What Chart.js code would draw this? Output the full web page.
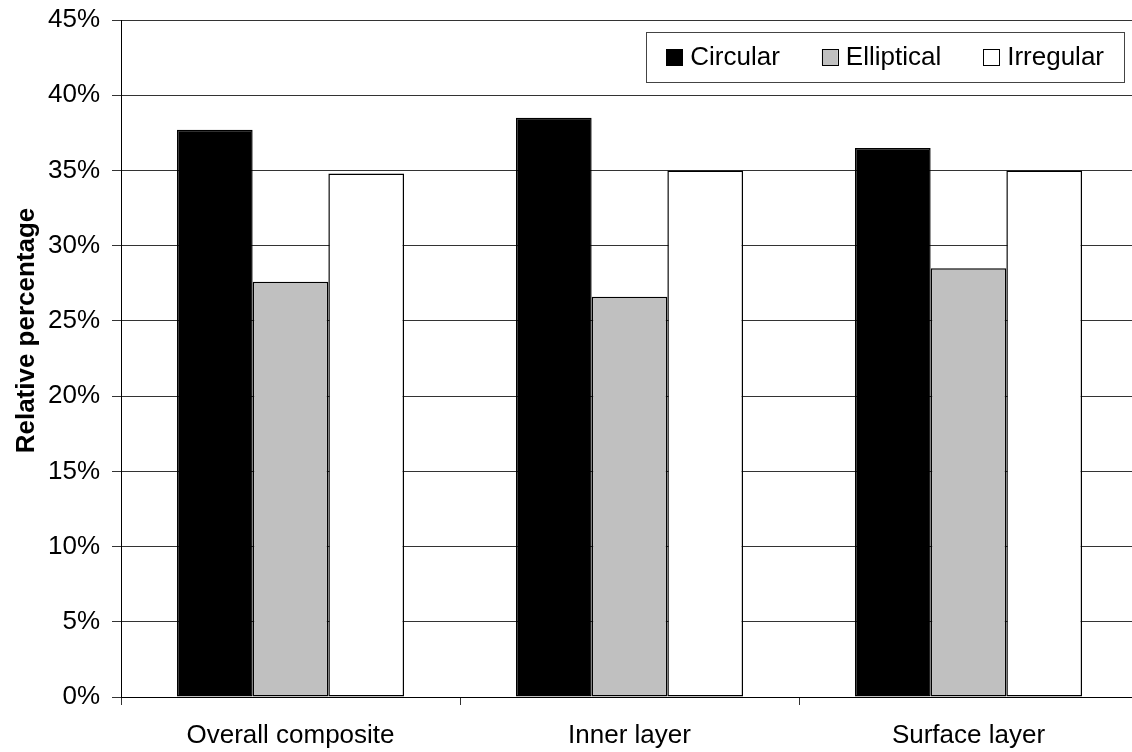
<!DOCTYPE html>
<html>
<head>
<meta charset="utf-8">
<title>Relative percentage by shape</title>
<script src="https://cdn.jsdelivr.net/npm/chart.js@4/dist/chart.umd.min.js"></script>
<style>
  html, body { margin: 0; padding: 0; background: #fff; overflow: hidden; }
  canvas { display: block; }
</style>
</head>
<body>
<canvas id="chartShape" width="1150" height="752"></canvas>
<script>
// Nilai persentase relatif tiap bentuk per lapisan
const categories = ["Overall composite", "Inner layer", "Surface layer"];
const circular = [37.7, 38.5, 36.5];
const elliptical = [27.6, 26.6, 28.5];
const irregular = [34.8, 35.0, 35.0];
const yTicks = [0, 5, 10, 15, 20, 25, 30, 35, 40, 45];
const yTitle = "Relative percentage";

const FONT = "'Liberation Sans', Arial, Helvetica, sans-serif";

// legenda dengan kotak, digambar di dalam area plot (pojok kanan atas)
const boxLegend = {
  id: "boxLegend",
  afterDraw(chart) {
    const { ctx, chartArea } = chart;
    ctx.save();
    ctx.font = "26px " + FONT;
    const items = chart.data.datasets.map(ds => ({
      label: ds.label,
      fill: ds.backgroundColor,
      w: ctx.measureText(ds.label).width
    }));
    const sw = 16, gapText = 8, gapItem = 42, pad = 20;
    let total = pad * 2;
    items.forEach((it, i) => {
      total += sw + gapText + it.w + (i < items.length - 1 ? gapItem : 0);
    });
    const right = chartArea.right - 14;
    const top = chartArea.top + 12;
    const h = 50;
    const left = right - total;
    ctx.fillStyle = "#fff";
    ctx.fillRect(left, top, total, h);
    ctx.strokeStyle = "#444";
    ctx.lineWidth = 1;
    ctx.strokeRect(Math.round(left) + 0.5, top + 0.5, Math.round(total), h);

    let x = left + pad;
    const cy = top + h / 2;
    items.forEach(it => {
      ctx.fillStyle = it.fill;
      ctx.fillRect(x, cy - sw / 2, sw, sw);
      ctx.strokeStyle = "#000";
      ctx.strokeRect(Math.round(x) + 0.5, Math.round(cy - sw / 2) + 0.5, sw, sw);
      ctx.fillStyle = "#000";
      ctx.textBaseline = "middle";
      ctx.textAlign = "left";
      ctx.fillText(it.label, x + sw + gapText, cy + 1);
      x += sw + gapText + it.w + gapItem;
    });
    ctx.restore();
  }
};

// judul sumbu Y, agak naik dari tengah area plot
const yAxisTitle = {
  id: "yAxisTitle",
  afterDraw(chart) {
    const { ctx, chartArea } = chart;
    ctx.save();
    ctx.translate(27, (chartArea.top + chartArea.bottom) / 2 - 28);
    ctx.rotate(-Math.PI / 2);
    ctx.font = "bold 26px " + FONT;
    ctx.fillStyle = "#000";
    ctx.textAlign = "center";
    ctx.textBaseline = "middle";
    ctx.fillText(yTitle, 0, 0);
    ctx.restore();
  }
};

new Chart(document.getElementById("chartShape"), {
  type: "bar",
  data: {
    labels: categories,
    datasets: [
      { label: "Circular", data: circular, backgroundColor: "#000000" },
      { label: "Elliptical", data: elliptical, backgroundColor: "#c0c0c0" },
      { label: "Irregular", data: irregular, backgroundColor: "#ffffff" }
    ]
  },
  options: {
    responsive: false,
    animation: false,
    devicePixelRatio: 1,
    layout: { padding: { top: 20, right: 12, left: 0, bottom: 0 } },
    datasets: {
      bar: {
        categoryPercentage: 0.67,
        barPercentage: 1.0,
        borderColor: "#000",
        borderWidth: 1.5,
        borderSkipped: false
      }
    },
    plugins: {
      legend: { display: false },
      tooltip: { enabled: false }
    },
    scales: {
      x: {
        offset: true,
        grid: {
          offset: true,
          drawOnChartArea: false,
          drawTicks: true,
          tickLength: 8,
          color: "#333"
        },
        border: { color: "#000", width: 1 },
        ticks: {
          color: "#000",
          padding: 15,
          font: { family: FONT, size: 26 }
        },
        afterFit: scale => {
          scale.height = 55;
          scale.paddingLeft = 0;
          scale.paddingRight = 0;
        }
      },
      y: {
        min: 0,
        max: 45,
        afterBuildTicks: scale => {
          scale.ticks = yTicks.map(v => ({ value: v }));
        },
        grid: {
          color: "#333",
          lineWidth: 1,
          tickLength: 9
        },
        border: { color: "#000", width: 1 },
        ticks: {
          color: "#000",
          padding: 12,
          font: { family: FONT, size: 26 },
          callback: v => v + "%"
        },
        afterFit: scale => {
          scale.width = 121;
          scale.paddingTop = 0;
          scale.paddingBottom = 0;
        }
      }
    }
  },
  plugins: [boxLegend, yAxisTitle]
});
</script>
</body>
</html>
